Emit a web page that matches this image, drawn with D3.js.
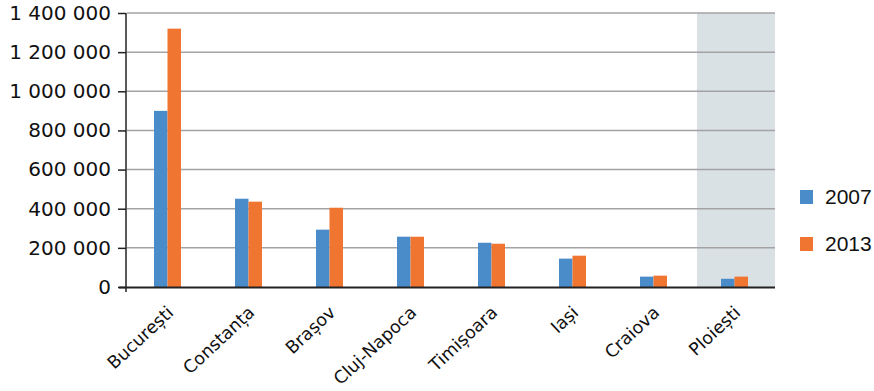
<!DOCTYPE html>
<html><head><meta charset="utf-8">
<script src="https://cdn.jsdelivr.net/npm/d3@7"></script>
<style>body{margin:0;background:#fff}svg{display:block}</style>
</head><body><svg id="c" width="874" height="391"></svg>
<script>
const categories = ["București","Constanța","Brașov","Cluj-Napoca","Timișoara","Iași","Craiova","Ploiești"];
const series = ["2007","2013"];
const values2007 = [900000, 451000, 293000, 257000, 226000, 145000, 53000, 42000];
const values2013 = [1320000, 436000, 405000, 257000, 221000, 160000, 58000, 53000];
const yTicks = [0,200000,400000,600000,800000,1000000,1200000,1400000];
const highlighted = "Ploiești";
const colors = ["#4a8bc9","#f07531"];

const svg = d3.select("#c");
const L=127, R=775, T=13, B=287;
const x = d3.scaleBand().domain(categories).range([L,R]).paddingInner(0).paddingOuter(0);
const x1 = d3.scaleBand().domain(series).range([0,27]);
const y = d3.scaleLinear().domain([0,1400000]).range([B,T]);
const fmt = v => d3.format(",")(v).replace(/,/g," ");
const FONT = "DejaVu Sans, sans-serif";

// highlight band
svg.append("rect").attr("x", x(highlighted)+3).attr("y", T).attr("width", R - x(highlighted) - 3).attr("height", B-T).attr("fill","#d9e1e4");

// grid
svg.append("g").selectAll("line").data(yTicks.filter(d=>d>0)).join("line")
  .attr("x1",L).attr("x2",R).attr("y1",d=>y(d)).attr("y2",d=>y(d))
  .attr("stroke","#a3a3a3").attr("stroke-width",1.5);

// bars
const data = [values2007, values2013];
const g = svg.append("g");
categories.forEach((c,i)=>{
  series.forEach((s,j)=>{
    const cx = x(c)+x.bandwidth()/2 - 13.5;
    g.append("rect").attr("x", cx + x1(s)).attr("width", x1.bandwidth())
      .attr("y", y(data[j][i])).attr("height", B - y(data[j][i])).attr("fill", colors[j]);
  });
});

// y axis
const ya = d3.axisLeft(y).tickValues(yTicks).tickFormat(fmt).tickSize(8).tickPadding(7);
const yg = svg.append("g").attr("transform",`translate(${L-1},0)`).call(ya);
yg.select(".domain").attr("d",`M0,${T}V${B+5}`).attr("stroke","#222").attr("stroke-width",1.5);
yg.selectAll(".tick line").attr("stroke","#222").attr("stroke-width",1.5);
yg.selectAll("text").attr("font-family",FONT).attr("font-size",20).attr("fill","#111");

// x axis line
svg.append("line").attr("x1",L-8).attr("x2",R).attr("y1",B+0.5).attr("y2",B+0.5).attr("stroke","#222").attr("stroke-width",2);

// x labels
svg.append("g").selectAll("text").data(categories).join("text")
  .attr("transform", d=>`translate(${x(d)+x.bandwidth()/2+7},${B+27}) rotate(-43)`)
  .attr("text-anchor","end")
  .attr("font-family",FONT).attr("font-size",17.5).attr("fill","#111")
  .text(d=>d);

// legend
const lg = svg.append("g").attr("transform","translate(800,190)");
series.forEach((s,j)=>{
  lg.append("rect").attr("x",0).attr("y",j*47).attr("width",13).attr("height",14).attr("fill",colors[j]);
  lg.append("text").attr("x",25).attr("y",j*47+14).attr("font-family","Liberation Sans, Arial, sans-serif")
    .attr("font-size",21).attr("fill","#111").text(s);
});
</script></body></html>
